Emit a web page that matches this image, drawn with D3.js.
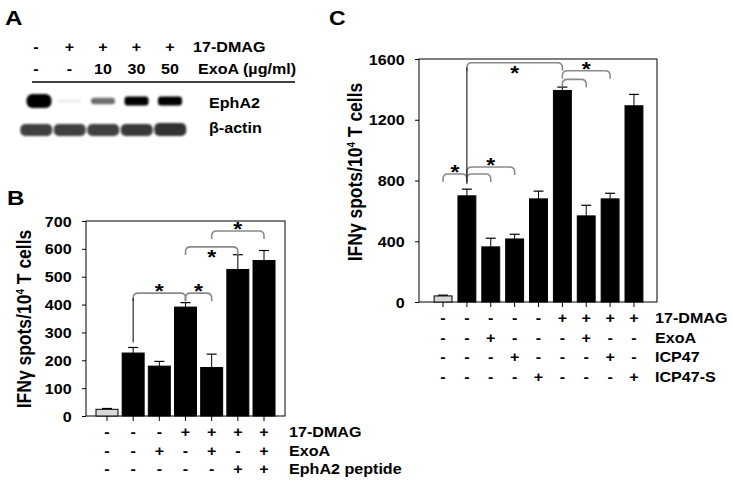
<!DOCTYPE html>
<html><head><meta charset="utf-8">
<script src="https://cdn.jsdelivr.net/npm/d3@7"></script>
<style>
body{margin:0;background:#fff}
text{font-family:"Liberation Sans",Arial,sans-serif;font-weight:bold;fill:#000}
</style>
</head><body>
<svg id="fig" width="733" height="486"></svg>
<script>
// ---------- DATA ----------
// Panel A (western blot)
const blotLanes = ["L1","L2","L3","L4","L5"];
const blotDMAG = ["-","+","+","+","+"];
const blotExoA = ["-","-","10","30","50"];
const ephA2Signal = [1.0, 0.06, 0.55, 0.88, 0.88];
const actinSignal = [0.8, 0.8, 0.8, 0.82, 0.84];

// Panel B
const bCategories = ["b1","b2","b3","b4","b5","b6","b7"];
const bValues = [24, 226, 179, 391, 174, 526, 558];
const bErrors = [3, 20, 17, 16, 48, 53, 36];
const bDMAG  = ["-","-","-","+","+","+","+"];
const bExoA  = ["-","-","+","-","+","-","+"];
const bEphA2 = ["-","-","-","-","-","+","+"];
const bRowNames = ["17-DMAG","ExoA","EphA2 peptide"];
const bTicks = [0,100,200,300,400,500,600,700];
const bBrackets = [
  {from:1,to:3,level:441,star:"above",lead:true},
  {from:3,to:4,level:441,star:"above"},
  {from:3,to:5,level:607,star:"below"},
  {from:4,to:6,level:664,star:"above"}
];

// Panel C
const cCategories = ["c1","c2","c3","c4","c5","c6","c7","c8","c9"];
const cValues = [40, 699, 363, 415, 679, 1393, 567, 679, 1292];
const cErrors = [5, 44, 57, 31, 51, 22, 70, 37, 75];
const cDMAG  = ["-","-","-","-","-","+","+","+","+"];
const cExoA  = ["-","-","+","-","-","-","+","-","-"];
const cICP47 = ["-","-","-","+","-","-","-","+","-"];
const cICP47S= ["-","-","-","-","+","-","-","-","+"];
const cRowNames = ["17-DMAG","ExoA","ICP47","ICP47-S"];
const cTicks = [0,400,800,1200,1600];
const cBrackets = [
  {from:0,to:1,level:843,star:"above"},
  {from:1,to:2,level:843},
  {from:1,to:3,level:889,star:"above"},
  {from:1,to:5,level:1575,star:"below",lead:true},
  {from:5,to:7,level:1523,star:"above"},
  {from:5,to:6,level:1466}
];

// ---------- DRAW ----------
const SX = 1.15; // horizontal stretch of the original lettering
const svg = d3.select("#fig");
svg.append("rect").attr("width",733).attr("height",486).attr("fill","#fff");

function label(parent, x, y, str, anchor, size, rot) {
  const g = parent.append("g")
    .attr("transform", `translate(${x},${y}) scale(${SX},1)` + (rot ? ` rotate(${rot})` : ""));
  const t = g.append("text").attr("text-anchor", anchor || "middle").attr("font-size", size || 14);
  if (str !== null) t.text(str);
  return t;
}

function yTitle(parent, x, y) {
  const t = label(parent, x, y, null, "middle", 17.5, -90);
  t.append("tspan").text("IFN\u03b3 spots/10");
  t.append("tspan").attr("font-size", 10).attr("dy", -6).text("4");
  t.append("tspan").attr("dy", 6).text(" T cells");
}

// Panel letters
label(svg, 5, 25, "A", "start", 21);
label(svg, 7, 205, "B", "start", 21);
label(svg, 329, 25, "C", "start", 20);

// ---- Panel A ----
(function(){
  const g = svg.append("g");
  const defs = svg.append("defs");
  defs.append("filter").attr("id","blur").attr("x","-20%").attr("y","-50%").attr("width","140%").attr("height","200%")
    .append("feGaussianBlur").attr("stdDeviation", 1.0);
  const x = d3.scalePoint().domain(blotLanes).range([36, 170]);
  blotLanes.forEach((l,i) => {
    label(g, x(l), 52, blotDMAG[i], "middle", 14);
    label(g, x(l), 74, blotExoA[i], "middle", 14);
  });
  label(g, 193, 52, "17-DMAG", "start", 14);
  label(g, 198, 74, "ExoA (\u00b5g/ml)", "start", 14);
  g.append("line").attr("x1",32).attr("x2",295).attr("y1",82).attr("y2",82).attr("stroke","#000").attr("stroke-width",1.5);

  const bands = g.append("g").attr("filter","url(#blur)");
  const step = x.step();
  // EphA2 bands
  blotLanes.forEach((l,i) => {
    const s = ephA2Signal[i];
    const h = s >= 0.99 ? 14 : 2 + s * 8;
    const w = s >= 0.99 ? 25 : 24;
    bands.append("rect")
      .attr("x", x(l) - w/2 + (i===0?3:0)).attr("y", 101 - h/2).attr("width", w).attr("height", h)
      .attr("rx", s >= 0.99 ? 6 : 3)
      .attr("fill", d3.interpolateGreys(s >= 0.99 ? 1 : 0.1 + s));
  });
  // beta-actin bands
  blotLanes.forEach((l,i) => {
    const s = actinSignal[i];
    bands.append("rect")
      .attr("x", x(l) - step/2 + 1).attr("y", 124 - (i===4?1:0)).attr("width", step - 1.5).attr("height", 12 + (i===4?1:0))
      .attr("rx", 5)
      .attr("fill", d3.interpolateGreys(s));
  });
  label(g, 209, 108, "EphA2", "start", 14);
  label(g, 209, 133, "\u03b2-actin", "start", 14);
})();

// ---- generic bar panel ----
function barPanel(cfg) {
  const g = svg.append("g");
  const {x0,x1,y0,y1,band0,band1,pad,cats,vals,errs,ticks,ymax,rows,rowNames,rowY,rowNameX,brackets,titleX,titleY} = cfg;
  const x = d3.scaleBand().domain(d3.range(cats.length)).range([band0, band1]).paddingInner(pad).paddingOuter(pad/2);
  const y = d3.scaleLinear().domain([0, ymax]).range([y1, y0]);

  // frame
  g.append("rect").attr("x", x0).attr("y", y0).attr("width", x1 - x0).attr("height", y1 - y0)
    .attr("fill","none").attr("stroke","#000").attr("stroke-width",1);

  // y axis
  const ya = g.append("g").attr("transform", `translate(${x0},0)`)
    .call(d3.axisLeft(y).tickValues(ticks).tickFormat(d3.format("d")).tickSize(4).tickSizeOuter(0).tickPadding(0));
  ya.select(".domain").remove();
  ya.selectAll(".tick line").attr("stroke","#000");
  ya.selectAll(".tick text").attr("x", -12.5).attr("dy","0.36em")
    .attr("transform", `scale(${SX},1)`).attr("font-size",14)
    .attr("font-family",'"Liberation Sans",Arial,sans-serif').attr("font-weight","bold");

  // x axis ticks
  const xa = g.append("g").attr("transform", `translate(0,${y1})`)
    .call(d3.axisBottom(x).tickSize(5).tickSizeOuter(0).tickFormat(""));
  xa.select(".domain").remove();
  xa.selectAll(".tick line").attr("stroke","#000");

  // bars
  g.selectAll("rect.bar").data(vals).join("rect").attr("class","bar")
    .attr("x", (d,i) => x(i)).attr("width", x.bandwidth())
    .attr("y", d => y(d)).attr("height", d => y(0) - y(d))
    .attr("fill", (d,i) => i === 0 ? "#d8d8d8" : "#000")
    .attr("stroke","#000").attr("stroke-width",1);

  // error bars
  const cx = i => x(i) + x.bandwidth()/2;
  vals.forEach((v,i) => {
    const top = y(v + errs[i]);
    g.append("line").attr("x1",cx(i)).attr("x2",cx(i)).attr("y1",y(v)).attr("y2",top).attr("stroke","#000").attr("stroke-width",1);
    g.append("line").attr("x1",cx(i)-5).attr("x2",cx(i)+5).attr("y1",top).attr("y2",top).attr("stroke","#000").attr("stroke-width",1.2);
  });

  // brackets
  brackets.forEach(b => {
    const xa1 = cx(b.from), xa2 = cx(b.to), yl = y(b.level);
    const r = 5, drop = 8;
    const p = d3.path();
    p.moveTo(xa1, yl + drop);
    p.lineTo(xa1, yl + r);
    p.quadraticCurveTo(xa1, yl, xa1 + r, yl);
    p.lineTo(xa2 - r, yl);
    p.quadraticCurveTo(xa2, yl, xa2, yl + r);
    p.lineTo(xa2, yl + drop);
    g.append("path").attr("d", p.toString()).attr("fill","none").attr("stroke","#8a8a8a").attr("stroke-width",1.6);
    if (b.lead) {
      const et = y(vals[b.from] + errs[b.from]);
      g.append("line").attr("x1",xa1).attr("x2",xa1).attr("y1",yl + r).attr("y2",et - 5).attr("stroke","#000").attr("stroke-width",1);
    }
    if (b.star) {
      const sc = b.star === "above" ? yl - 6 : yl + 6;
      label(g, (xa1 + xa2)/2, sc + 11, "*", "middle", 20);
    }
  });

  // condition rows
  rows.forEach((row, r) => {
    row.forEach((s, i) => label(g, cx(i), rowY[r], s, "middle", 14));
    label(g, rowNameX, rowY[r], rowNames[r], "start", 14);
  });

  yTitle(g, titleX, titleY);
}

barPanel({
  x0:86, x1:285, y0:221, y1:416, band0:93.9, band1:277.1, pad:0.16,
  cats:bCategories, vals:bValues, errs:bErrors, ticks:bTicks, ymax:700,
  rows:[bDMAG,bExoA,bEphA2], rowNames:bRowNames, rowY:[437,456,474], rowNameX:289,
  brackets:bBrackets, titleX:31, titleY:319
});

barPanel({
  x0:419, x1:657, y0:59, y1:302, band0:431.1, band1:645.9, pad:0.25,
  cats:cCategories, vals:cValues, errs:cErrors, ticks:cTicks, ymax:1600,
  rows:[cDMAG,cExoA,cICP47,cICP47S], rowNames:cRowNames, rowY:[323,343,362,382], rowNameX:655,
  brackets:cBrackets, titleX:362, titleY:172
});
</script>
</body></html>
